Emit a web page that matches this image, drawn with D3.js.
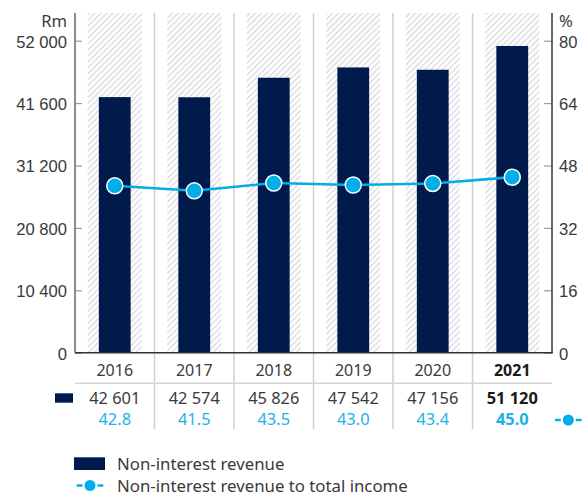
<!DOCTYPE html>
<html>
<head>
<meta charset="utf-8">
<script src="https://cdn.jsdelivr.net/npm/d3@7"></script>
<style>
  html, body { margin: 0; padding: 0; background: #fff; }
  svg { display: block; font-family: "Noto Sans", sans-serif; }
</style>
</head>
<body>
<svg id="chart" width="583" height="495"></svg>
<script>
const years = ["2016", "2017", "2018", "2019", "2020", "2021"];
const revenue = [42601, 42574, 45826, 47542, 47156, 51120];
const ratio = [42.8, 41.5, 43.5, 43.0, 43.4, 45.0];
const leftTicks = [0, 10400, 20800, 31200, 41600, 52000];
const rightTicks = [0, 16, 32, 48, 64, 80];
const seriesNames = ["Non-interest revenue", "Non-interest revenue to total income"];
const leftUnit = "Rm";
const rightUnit = "%";

const barColor = "#001a4b";
const lineColor = "#00aee8";
const textColor = "#3a3a3a";

const svg = d3.select("#chart");
const pLeft = 75, pRight = 552, pTop = 13, pBottom = 352.7, scaleTop = 40.7;

const x = d3.scaleBand().domain(years).range([pLeft, pRight]).paddingInner(0).paddingOuter(0);
const yL = d3.scaleLinear().domain([0, 52000]).range([pBottom, scaleTop]);
const yR = d3.scaleLinear().domain([0, 80]).range([pBottom, scaleTop]);

const loc = d3.formatLocale({decimal: ".", thousands: " ", grouping: [3], currency: ["", ""]});
const fmtInt = loc.format(",d");
const fmtPct = d3.format(".1f");

// hatch pattern
const defs = svg.append("defs");
const pat = defs.append("pattern")
  .attr("id", "hatch")
  .attr("patternUnits", "userSpaceOnUse")
  .attr("width", 4.2).attr("height", 4.2)
  .attr("patternTransform", "rotate(45)");
pat.append("rect").attr("width", 4.2).attr("height", 4.2).attr("fill", "#fff");
pat.append("rect").attr("width", 1.8).attr("height", 4.2).attr("fill", "#e3e3e6");

const bw = x.bandwidth();

// hatched bands
svg.append("g").selectAll("rect").data(years).join("rect")
  .attr("x", d => x(d) + bw * 0.16)
  .attr("y", pTop)
  .attr("width", bw * 0.68)
  .attr("height", pBottom - pTop)
  .attr("fill", "url(#hatch)");

// separators
svg.append("g").selectAll("line").data(years.slice(1)).join("line")
  .attr("x1", d => x(d)).attr("x2", d => x(d))
  .attr("y1", pTop).attr("y2", 429)
  .attr("stroke", "#cfcfcf").attr("stroke-width", 1.5);

// bars
svg.append("g").selectAll("rect").data(revenue).join("rect")
  .attr("x", (d, i) => x(years[i]) + bw * 0.3)
  .attr("y", d => yL(d))
  .attr("width", bw * 0.4)
  .attr("height", d => pBottom - yL(d))
  .attr("fill", barColor);

// left axis
const axL = svg.append("g").attr("transform", `translate(${pLeft},0)`)
  .call(d3.axisLeft(yL).tickValues(leftTicks).tickFormat(fmtInt).tickSizeInner(-7).tickSizeOuter(0).tickPadding(8));
axL.select(".domain").remove();
axL.selectAll(".tick line").attr("stroke", "#9a9a9a").attr("stroke-width", 1.2);
axL.selectAll(".tick text").attr("fill", textColor).style("font-size", "16.6px").attr("dy", "0.38em");
svg.append("line").attr("x1", pLeft).attr("x2", pLeft).attr("y1", pTop).attr("y2", pBottom)
  .attr("stroke", "#666").attr("stroke-width", 1.5);

// right axis
const axR = svg.append("g").attr("transform", `translate(${pRight},0)`)
  .call(d3.axisRight(yR).tickValues(rightTicks).tickFormat(d3.format("d")).tickSizeInner(-8).tickSizeOuter(0).tickPadding(7));
axR.select(".domain").remove();
axR.selectAll(".tick line").attr("stroke", "#9a9a9a").attr("stroke-width", 1.2);
axR.selectAll(".tick text").attr("fill", textColor).style("font-size", "16.6px").attr("dy", "0.38em");
svg.append("line").attr("x1", pRight).attr("x2", pRight).attr("y1", pTop).attr("y2", pBottom)
  .attr("stroke", "#333").attr("stroke-width", 1.5);

// baseline
svg.append("line").attr("x1", pLeft).attr("x2", pRight + 0.75).attr("y1", pBottom).attr("y2", pBottom)
  .attr("stroke", "#333").attr("stroke-width", 1.5);

// unit labels
svg.append("text").attr("x", 67).attr("y", 27).attr("text-anchor", "end")
  .attr("fill", textColor).style("font-size", "16.6px").text(leftUnit);
svg.append("text").attr("x", 559).attr("y", 27).attr("text-anchor", "start")
  .attr("fill", textColor).style("font-size", "16.6px").text(rightUnit);

// line
const cx = i => x(years[i]) + bw / 2;
svg.append("path").datum(ratio)
  .attr("d", d3.line().x((d, i) => cx(i)).y(d => yR(d)))
  .attr("fill", "none").attr("stroke", lineColor).attr("stroke-width", 2.5);
svg.append("g").selectAll("circle").data(ratio).join("circle")
  .attr("cx", (d, i) => cx(i)).attr("cy", d => yR(d)).attr("r", 8)
  .attr("fill", lineColor).attr("stroke", "#fff").attr("stroke-width", 1.5);

// table
const last = years.length - 1;
svg.append("g").selectAll("text").data(years).join("text")
  .attr("x", d => x(d) + bw / 2).attr("y", 376)
  .attr("text-anchor", "middle").attr("fill", (d, i) => i === last ? "#1a1a1a" : textColor)
  .style("font-size", "16px").style("font-weight", (d, i) => i === last ? "700" : "400")
  .text(d => d);
svg.append("line").attr("x1", pLeft).attr("x2", pRight).attr("y1", 383.3).attr("y2", 383.3)
  .attr("stroke", "#d5d5d5").attr("stroke-width", 1.5);
svg.append("g").selectAll("text").data(revenue).join("text")
  .attr("x", (d, i) => cx(i)).attr("y", 404)
  .attr("text-anchor", "middle").attr("fill", (d, i) => i === last ? "#1a1a1a" : textColor)
  .style("font-size", "16.4px").style("font-weight", (d, i) => i === last ? "700" : "400")
  .text(d => fmtInt(d));
svg.append("g").selectAll("text").data(ratio).join("text")
  .attr("x", (d, i) => cx(i)).attr("y", 425)
  .attr("text-anchor", "middle").attr("fill", "#1cb2e8")
  .style("font-size", "16.4px").style("font-weight", (d, i) => i === last ? "700" : "400")
  .text(d => fmtPct(d));

// table row keys
svg.append("rect").attr("x", 55).attr("y", 393.3).attr("width", 18).attr("height", 9.4).attr("fill", barColor);
function lineKey(g, cx0, cy0, half, r) {
  g.append("line").attr("x1", cx0 - half).attr("x2", cx0 - r - 2).attr("y1", cy0).attr("y2", cy0)
    .attr("stroke", lineColor).attr("stroke-width", 2.5);
  g.append("line").attr("x1", cx0 + r + 2).attr("x2", cx0 + half).attr("y1", cy0).attr("y2", cy0)
    .attr("stroke", lineColor).attr("stroke-width", 2.5);
  g.append("circle").attr("cx", cx0).attr("cy", cy0).attr("r", r).attr("fill", lineColor);
}
lineKey(svg.append("g"), 568.3, 420, 13.3, 5.5);

// bottom legend
svg.append("rect").attr("x", 74).attr("y", 457.3).attr("width", 31).attr("height", 12.7).attr("fill", barColor);
svg.append("text").attr("x", 117).attr("y", 469.5).attr("fill", textColor).style("font-size", "16.8px").text(seriesNames[0]);
lineKey(svg.append("g"), 90, 485.5, 13.3, 5.5);
svg.append("text").attr("x", 117).attr("y", 491.5).attr("fill", textColor).style("font-size", "16.8px").text(seriesNames[1]);
</script>
</body>
</html>
